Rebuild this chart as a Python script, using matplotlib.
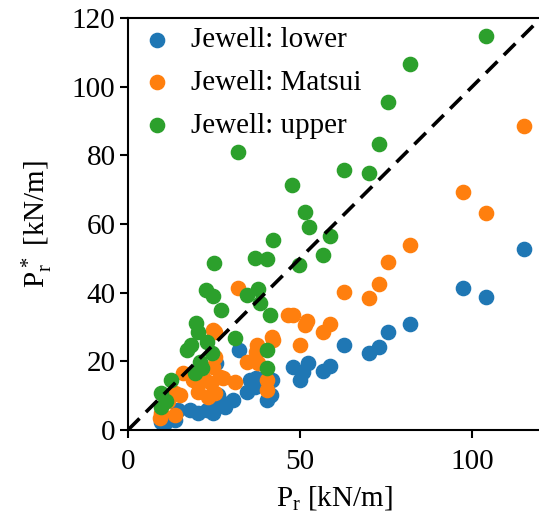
import numpy as np
import matplotlib
matplotlib.use("Agg")
import matplotlib.pyplot as plt

plt.rcParams['font.family'] = ['Liberation Serif', 'DejaVu Serif']
plt.rcParams['mathtext.default'] = 'regular'
plt.rcParams['font.size'] = 21

# Jewell: lower
x_lower = [115, 104, 97.4, 82, 75.5, 73, 70.1, 62.8, 58.7, 56.6, 52.4, 51, 50, 47.9,
           41.8, 41.7, 40.3, 37.3, 35.5, 36.8, 34.5, 30.6, 32.3, 28.1, 26.7, 26.2,
           25.5, 24.7, 23.7, 22.9, 20.3, 17.9, 14.5, 13.6, 10.7, 9.7]
y_lower = [52.7, 38.6, 41.3, 30.8, 28.6, 24.3, 22.5, 24.8, 18.6, 17.3, 19.4, 17.0, 14.6, 18.3,
           14.6, 10.2, 8.7, 15.0, 14.6, 12.6, 11.2, 8.7, 23.3, 6.8, 8.3, 10.2,
           19.5, 4.9, 6.3, 5.8, 4.9, 5.8, 5.8, 2.9, 1.9, 2.4]

# Jewell: Matsui
x_matsui = [115, 104, 97.4, 82, 75.5, 73, 70.1, 62.8, 58.7, 56.8, 51.9, 51.3, 50, 47.9,
            46.5, 42.0, 41.8, 40.3, 40.3, 37.4, 37.3, 34.5, 37.9, 31.1, 27.6, 26.7, 24.8,
            25.3, 25.2, 24.8, 25.2, 32.0, 16.0, 18.9, 22.3, 20.3, 15.0, 11.6, 13.6,
            23.3, 24.2, 13.6, 9.2, 9.7]
y_matsui = [88.5, 63.2, 69.3, 53.9, 49.0, 42.4, 38.4, 40.3, 30.9, 28.6, 31.8, 30.6, 24.8, 33.5,
            33.5, 26.3, 27.2, 14.6, 11.7, 24.8, 22.8, 19.9, 19.4, 14.1, 15.0, 15.5, 18.4,
            10.7, 28.6, 29.1, 21.4, 41.3, 16.5, 14.6, 14.6, 11.2, 10.2, 8.3, 10.7,
            9.7, 13.6, 4.4, 3.4, 4.9]

# Jewell: upper
x_upper = [104, 82, 75.5, 73, 62.8, 70.1, 47.8, 51.5, 52.6, 58.7, 42.0, 56.8, 49.8, 32.1,
           40.3, 36.9, 25.0, 22.7, 24.7, 34.5, 37.9, 38.4, 27.1, 41.3, 19.9, 20.3,
           31.0, 22.9, 24.3, 21.4, 40.3, 40.3, 17.0, 18.4, 20.8, 19.4, 12.6, 9.7,
           11.1, 9.7]
y_upper = [114.8, 106.6, 95.5, 83.3, 75.7, 74.8, 71.4, 63.6, 59.2, 56.5, 55.3, 51.0, 48.1, 81.1,
           49.7, 50.2, 48.7, 40.8, 38.9, 39.3, 41.2, 36.9, 34.9, 33.5, 31.3, 28.4,
           26.8, 25.7, 22.3, 18.0, 23.3, 18.0, 23.3, 24.8, 19.9, 16.5, 14.6, 10.7,
           8.3, 6.8]

fig = plt.figure(figsize=(5.39, 5.18), dpi=100)
ax = fig.add_axes([0.2375, 0.17, 0.766, 0.795])

ax.scatter(x_lower, y_lower, s=105, color='#1f77b4', label='Jewell: lower')
ax.scatter(x_matsui, y_matsui, s=105, color='#ff7f0e', label='Jewell: Matsui')
ax.scatter(x_upper, y_upper, s=105, color='#2ca02c', label='Jewell: upper')
ax.plot([0, 120], [0, 120], 'k--', lw=2.6, dashes=(4.5, 2.5))

ax.set_xlim(0, 120)
ax.set_ylim(0, 120)
ax.set_xticks([0, 50, 100])
ax.set_yticks([0, 20, 40, 60, 80, 100, 120])
ax.set_xlabel('P$_r$ [kN/m]', labelpad=7)
ax.set_ylabel('P$_r^*$ [kN/m]', labelpad=12)
for sp in ax.spines.values():
    sp.set_linewidth(1.5)
ax.tick_params(width=1.5, length=5.5)
ax.tick_params(axis='x', pad=8)
ax.legend(loc='upper left', frameon=False, handlelength=1.4, handletextpad=0.45,
          labelspacing=0.56, borderaxespad=0.1, borderpad=0.2)

fig.savefig('out.png', dpi=100)
